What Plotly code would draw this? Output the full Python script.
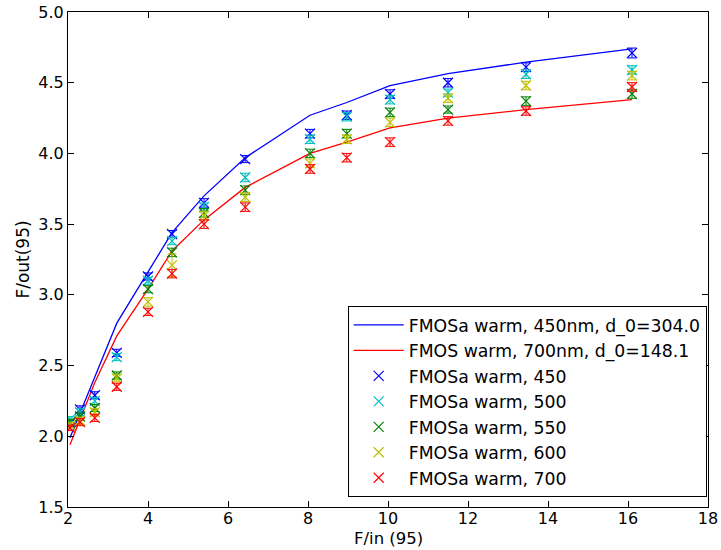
import plotly.graph_objects as go

# Input focal ratio F/in (95) for each measured position
f_in = [2.05, 2.3, 2.67, 3.22, 4.0, 4.6, 5.4, 6.43, 8.05, 8.97, 10.05, 11.5, 13.45, 16.1]

# Model curves
model_450 = [1.99, 2.16, 2.42, 2.80, 3.16, 3.44, 3.70, 3.97, 4.27, 4.36, 4.48, 4.565, 4.645, 4.74]
model_700 = [1.94, 2.12, 2.38, 2.71, 3.04, 3.31, 3.53, 3.76, 4.00, 4.08, 4.18, 4.25, 4.31, 4.38]

# Measured F/out(95) per wavelength
fout_450 = [2.09, 2.19, 2.29, 2.59, 3.13, 3.43, 3.65, 3.96, 4.14, 4.27, 4.42, 4.50, 4.61, 4.71]
fout_500 = [2.12, 2.17, 2.25, 2.56, 3.10, 3.38, 3.62, 3.83, 4.10, 4.26, 4.38, 4.43, 4.56, 4.59]
fout_550 = [2.10, 2.14, 2.20, 2.43, 3.04, 3.30, 3.58, 3.74, 4.00, 4.14, 4.29, 4.31, 4.37, 4.42]
fout_600 = [2.08, 2.11, 2.17, 2.41, 2.95, 3.21, 3.56, 3.69, 3.93, 4.10, 4.22, 4.39, 4.48, 4.55]
fout_700 = [2.06, 2.10, 2.13, 2.35, 2.88, 3.15, 3.50, 3.62, 3.89, 3.97, 4.08, 4.23, 4.30, 4.47]

# Measurement uncertainties
err_450 = [0.02, 0.025, 0.025, 0.025, 0.025, 0.025, 0.03, 0.025, 0.03, 0.03, 0.03, 0.03, 0.03, 0.035]
err_500 = [0.02, 0.025, 0.025, 0.025, 0.025, 0.025, 0.03, 0.03, 0.03, 0.03, 0.03, 0.025, 0.03, 0.03]
err_550 = [0.02, 0.025, 0.025, 0.025, 0.025, 0.03, 0.03, 0.03, 0.03, 0.03, 0.03, 0.025, 0.03, 0.03]
err_600 = [0.02, 0.025, 0.025, 0.025, 0.03, 0.08, 0.03, 0.03, 0.03, 0.03, 0.03, 0.03, 0.03, 0.03]
err_700 = [0.02, 0.025, 0.025, 0.025, 0.025, 0.03, 0.03, 0.03, 0.03, 0.03, 0.03, 0.03, 0.03, 0.03]

FONT = "DejaVu Sans"

fig = go.Figure()

fig.add_trace(go.Scatter(x=f_in, y=model_450, mode="lines",
                         line=dict(color="#0000ff", width=1.3),
                         name="FMOSa warm, 450nm, d_0=304.0"))
fig.add_trace(go.Scatter(x=f_in, y=model_700, mode="lines",
                         line=dict(color="#ff0000", width=1.3),
                         name="FMOS warm, 700nm, d_0=148.1"))

series = [
    ("FMOSa warm, 450", fout_450, err_450, "#0000ff"),
    ("FMOSa warm, 500", fout_500, err_500, "#00bfbf"),
    ("FMOSa warm, 550", fout_550, err_550, "#008000"),
    ("FMOSa warm, 600", fout_600, err_600, "#bfbf00"),
    ("FMOSa warm, 700", fout_700, err_700, "#ff0000"),
]
for name, ys, es, col in series:
    fig.add_trace(go.Scatter(
        x=f_in, y=ys, mode="markers", name=name,
        marker=dict(symbol="x-thin", size=10, color=col,
                    line=dict(width=1.2, color=col)),
        error_y=dict(type="data", array=es, visible=True,
                     color=col, thickness=1, width=4.5),
    ))

axis_common = dict(
    showline=True, linecolor="black", linewidth=1, mirror="allticks",
    ticks="inside", ticklen=6, tickcolor="black", tickwidth=1,
    showgrid=False, zeroline=False,
    tickfont=dict(family=FONT, size=16, color="black"),
)

fig.update_layout(
    width=721, height=550,
    margin=dict(l=68, r=13, t=12, b=43),
    paper_bgcolor="white", plot_bgcolor="white",
    font=dict(family=FONT, size=17, color="black"),
    xaxis=dict(range=[2, 18], tickvals=[2, 4, 6, 8, 10, 12, 14, 16, 18],
               ticklabelstandoff=-3,
               automargin=False, **axis_common),
    yaxis=dict(range=[1.5, 5.0], tickvals=[1.5, 2.0, 2.5, 3.0, 3.5, 4.0, 4.5, 5.0],
               tickformat=".1f",
               title=dict(text="F/out(95)", standoff=4,
                          font=dict(family=FONT, size=17)),
               automargin=False, **axis_common),
    legend=dict(x=0.998, y=0.02, xanchor="right", yanchor="bottom",
                bgcolor="white", bordercolor="black", borderwidth=1,
                font=dict(family=FONT, size=17.3, color="black"),
                itemwidth=50, tracegroupgap=0),
    showlegend=True,
    annotations=[dict(text="F/in (95)", xref="paper", yref="paper",
                      x=0.5, y=-43 / 495, xanchor="center", yanchor="bottom",
                      showarrow=False, font=dict(family=FONT, size=16.5))],
)

fig.write_html("out.html")
